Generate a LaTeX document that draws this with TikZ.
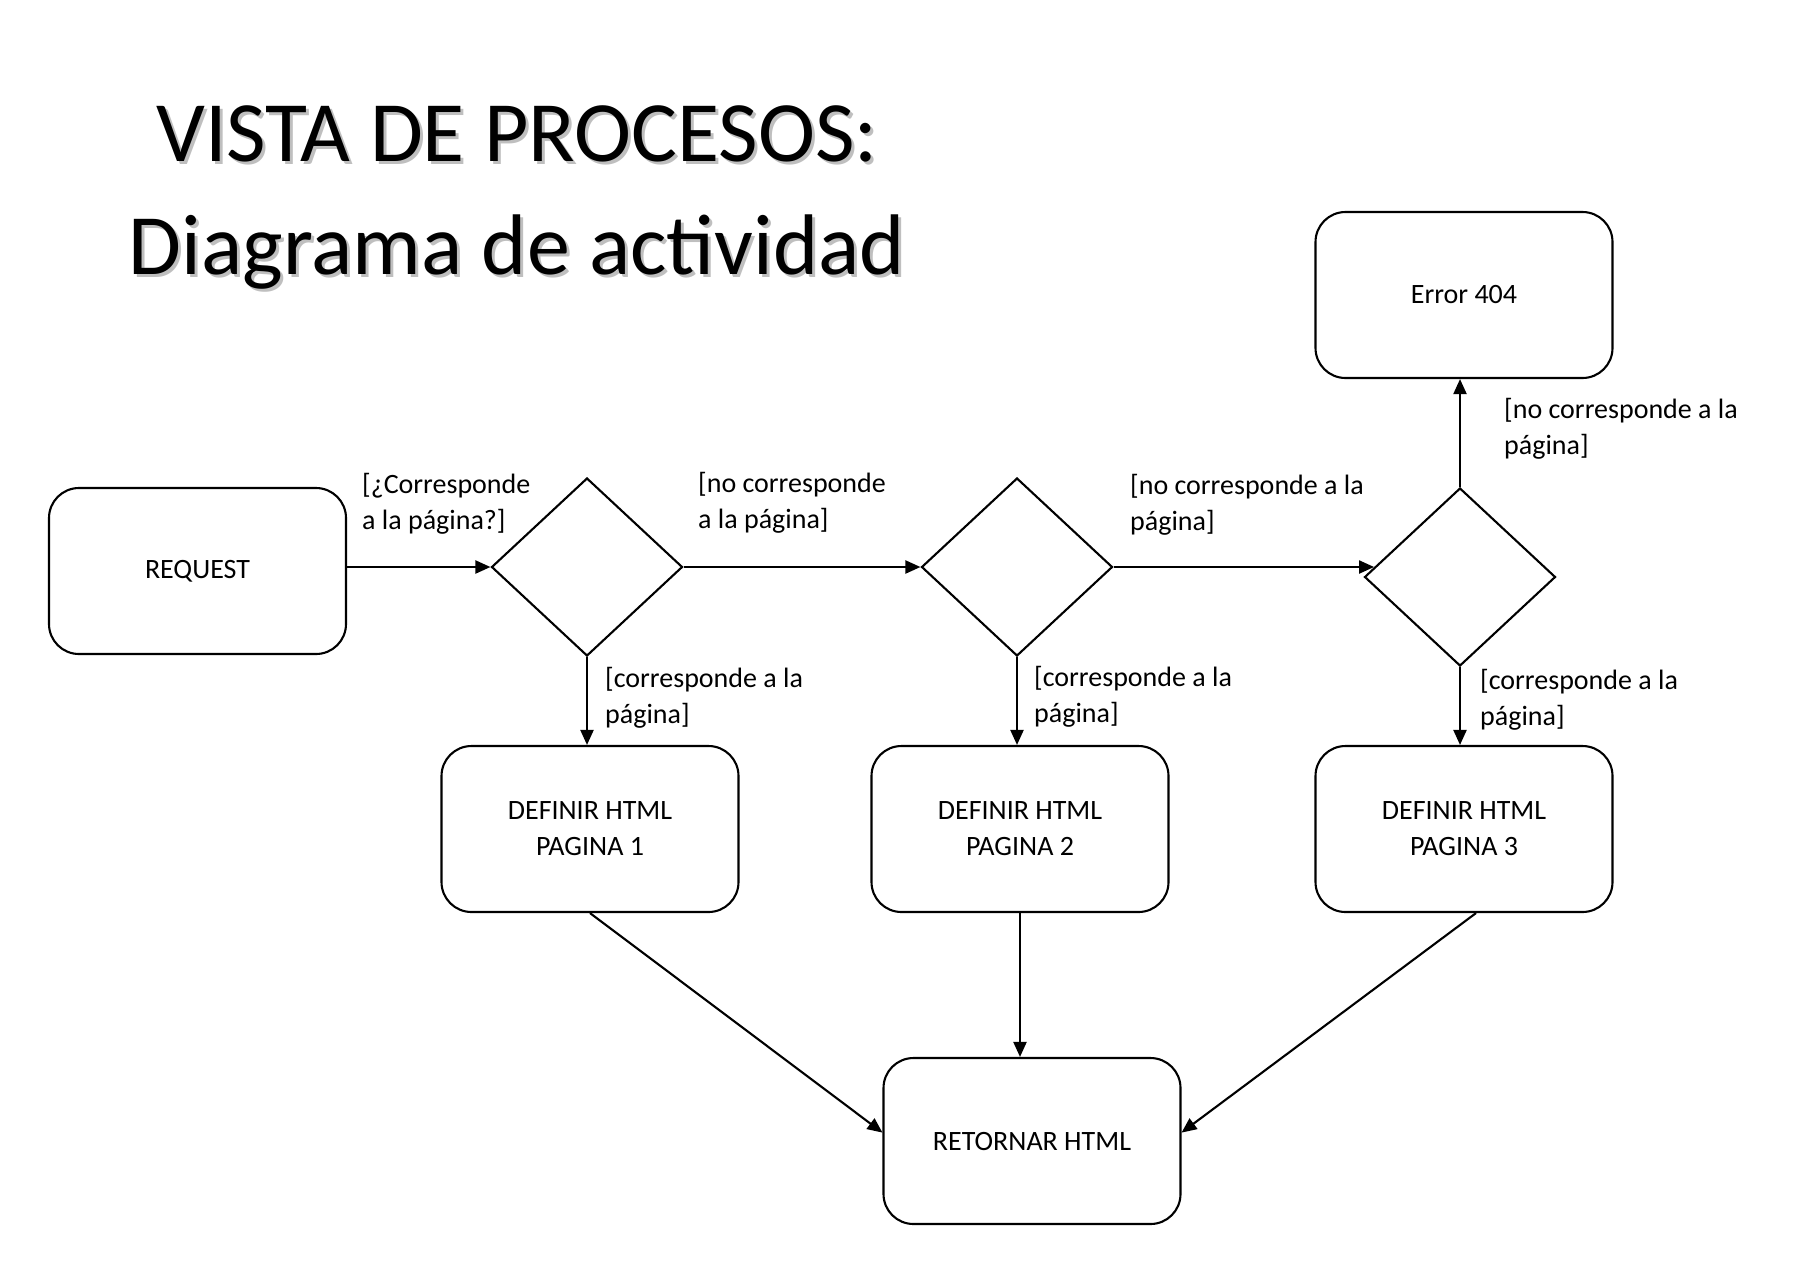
\documentclass[tikz,border=0pt]{standalone}
\usepackage{fontspec}
\setmainfont{Carlito}
\usetikzlibrary{shapes.geometric,arrows.meta,calc}
\begin{document}
\begin{tikzpicture}[x=1pt,y=-1pt,
  every node/.style={font=\fontsize{28}{36}\selectfont},
  act/.style={draw, line width=2.1pt, rounded corners=30pt, minimum width=297pt, minimum height=166pt, align=center, inner sep=0pt},
  dec/.style={draw, line width=2.1pt, diamond, minimum width=191pt, minimum height=178pt, inner sep=0pt},
  lbl/.style={anchor=base west, align=left, inner sep=0pt},
  flow/.style={line width=2.1pt, -{Triangle[length=15pt,width=13pt]}},
  ttl/.style={anchor=base, inner sep=0pt, font=\fontsize{86}{100}\selectfont}
]
\useasboundingbox (0,0) rectangle (1806,1270);
% title with soft shadow
\node[ttl, text=black!25] (t1s) at (520,164) {VISTA DE PROCESOS:};
\node[ttl, text=black!25] (t2s) at (520,277) {Diagrama de actividad};
\node[ttl] (t1) at (517,161) {VISTA DE PROCESOS:};
\node[ttl] (t2) at (517,274) {Diagrama de actividad};

% activities
\node[act] (req) at (197.5,571) {REQUEST};
\node[act] (err) at (1464,295) {Error 404};
\node[act] (def1) at (590,829) {DEFINIR HTML\\PAGINA 1};
\node[act] (def2) at (1020,829) {DEFINIR HTML\\PAGINA 2};
\node[act] (def3) at (1464,829) {DEFINIR HTML\\PAGINA 3};
\node[act] (ret) at (1032,1141) {RETORNAR HTML};

% decisions
\node[dec] (d1) at (587,567) {};
\node[dec] (d2) at (1017,567) {};
\node[dec] (d3) at (1460,577) {};

\coordinate (d3in) at ($(d3.west)!0.11!(d3.north)$);

% flows
\draw[flow] (req.east |- d1.west) -- (d1.west);
\draw[flow] (d1.east) -- (d2.west);
\draw[flow] (d2.east) -- (d2.east -| d3in);
\draw[flow] (d3.north) -- (err.south -| d3.north);
\draw[flow] (d1.south) -- (def1.north -| d1.south);
\draw[flow] (d2.south) -- (def2.north -| d2.south);
\draw[flow] (d3.south) -- (def3.north -| d3.south);
\draw[flow] (def1.south) -- ($(ret.south west)!0.55!(ret.north west)$);
\draw[flow] (def2.south) -- (ret.north -| def2.south);
\draw[flow] ($(def3.south)+(12,0)$) -- ($(ret.south east)!0.55!(ret.north east)$);

% guard labels
\node[lbl] (l1) at (362,529) {[¿Corresponde\\a la página?]};
\node[lbl] (l2) at (698,528) {[no corresponde\\a la página]};
\node[lbl] (l3) at (1130,530) {[no corresponde a la\\página]};
\node[lbl] (l4) at (1504,454) {[no corresponde a la\\página]};
\node[lbl] (l5) at (605,723) {[corresponde a la\\página]};
\node[lbl] (l6) at (1034,722) {[corresponde a la\\página]};
\node[lbl] (l7) at (1480,725) {[corresponde a la\\página]};
\end{tikzpicture}
\end{document}
